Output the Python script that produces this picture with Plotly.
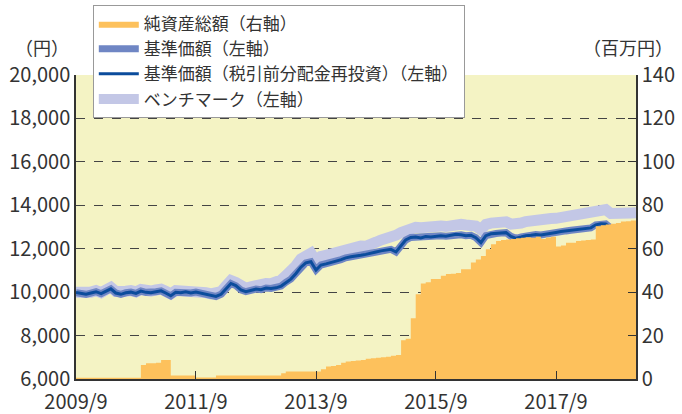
import pandas as pd
import plotly.graph_objects as go

# Monthly observations, 2009/9 .. 2019/1
dates = pd.date_range("2009-09-01", periods=113, freq="MS")

nav = [
    9980, 9950, 9900, 9960, 10020, 9930, 10040, 10150, 9960, 9900,
    9970, 10000, 9940, 10050, 9990, 9970, 10020, 10060, 9960, 9830,
    9990, 9970, 10020, 9960, 10000, 9950, 9880, 9820, 9800, 9900,
    10150, 10400, 10300, 10100, 10020, 10080, 10140, 10110, 10190, 10170,
    10200, 10280, 10450, 10600, 10850, 11150, 11350, 11400, 11020, 11250,
    11300, 11350, 11430, 11500, 11580, 11630, 11650, 11700, 11740, 11780,
    11850, 11900, 11930, 11970, 11850, 12150, 12400, 12520, 12540, 12500,
    12560, 12540, 12580, 12600, 12580, 12620, 12660, 12640, 12600, 12620,
    12510, 12280, 12600, 12690, 12700, 12720, 12740, 12570, 12480, 12540,
    12600, 12620, 12650, 12630, 12680, 12720, 12750, 12790, 12820, 12850,
    12880, 12910, 12950, 12960, 13100, 13150, 13140, 12950, 12930, 12990,
    13040, 13020, 13030,
]

nav_reinvested = list(nav)

benchmark = [
    9990, 9980, 9940, 10000, 10070, 9980, 10100, 10220, 10030, 9970,
    10040, 10070, 10010, 10120, 10060, 10050, 10100, 10140, 10040, 9920,
    10070, 10060, 10110, 10050, 10090, 10040, 9980, 9920, 9910, 10020,
    10280, 10540, 10450, 10260, 10180, 10250, 10320, 10300, 10400, 10390,
    10450, 10560, 10760, 10930, 11210, 11530, 11740, 11790, 11400, 11640,
    11700, 11760, 11850, 11920, 12000, 12050, 12070, 12120, 12110, 12150,
    12300, 12400, 12450, 12560, 12620, 12750, 12850, 12960, 12990, 12970,
    13010, 13000, 13030, 13050, 13020, 13070, 13110, 13120, 13090, 13100,
    13040, 12880, 13120, 13180, 13200, 13220, 13240, 13130, 13100, 13180,
    13250, 13300, 13340, 13330, 13360, 13390, 13400, 13440, 13470, 13500,
    13540, 13580, 13640, 13700, 13780, 13820, 13800, 13620, 13600, 13640,
    13680, 13650, 13660,
]

net_assets = [
    0.6, 0.6, 0.6, 0.6, 0.6, 0.6, 0.6, 0.6, 0.6, 0.6,
    0.6, 0.6, 0.6, 6.4, 7.3, 7.3, 7.5, 8.7, 8.7, 1.6,
    1.6, 1.6, 1.6, 1.6, 0.7, 0.7, 0.7, 0.7, 1.6, 1.6,
    1.6, 1.6, 1.6, 1.6, 1.6, 1.6, 1.6, 1.6, 1.6, 1.6,
    1.6, 2.6, 3.4, 3.4, 3.4, 3.4, 3.4, 3.4, 3.4, 4.5,
    5.7, 6.0, 6.5, 7.5, 8.1, 8.3, 8.5, 8.8, 9.3, 9.6,
    9.8, 10.0, 10.3, 10.7, 11.0, 17.8, 18.5, 28.0, 39.0, 44.0,
    44.5, 46.0, 46.0, 47.5, 48.3, 48.5, 48.8, 50.5, 50.5, 53.6,
    55.0, 56.6, 59.7, 62.0, 63.5, 64.0, 64.3, 64.5, 64.8, 65.0,
    65.3, 65.0, 65.5, 64.5, 65.2, 65.5, 61.0, 61.5, 62.7, 62.8,
    63.5, 63.8, 64.0, 64.3, 70.4, 70.8, 71.2, 71.5, 71.8, 72.5,
    72.7, 73.0, 73.4,
]

x_tick_vals = ["2009-09-01", "2011-09-01", "2013-09-01", "2015-09-01", "2017-09-01"]
x_tick_text = ["2009/9", "2011/9", "2013/9", "2015/9", "2017/9"]
y_left_ticks = [6000, 8000, 10000, 12000, 14000, 16000, 18000, 20000]
y_right_ticks = [0, 20, 40, 60, 80, 100, 120, 140]

FONT = "Noto Sans CJK JP"

fig = go.Figure()

fig.add_trace(go.Scatter(
    x=dates, y=net_assets, name="純資産総額（右軸）", yaxis="y2",
    mode="lines", line=dict(width=0, shape="hv", color="#FDC15C"),
    fill="tozeroy", fillcolor="#FDC15C", legendrank=1, legendgroup="a",
))
fig.add_trace(go.Scatter(
    x=dates, y=benchmark, name="ベンチマーク（左軸）",
    mode="lines", line=dict(width=11, color="#C3C7E6"), legendrank=4,
    legendgroup="d",
))
fig.add_trace(go.Scatter(
    x=dates, y=nav, name="基準価額（左軸）",
    mode="lines", line=dict(width=7, color="#6F86C4"), legendrank=2,
    legendgroup="b",
))
fig.add_trace(go.Scatter(
    x=dates, y=nav_reinvested, name="基準価額（税引前分配金再投資）（左軸）",
    mode="lines", line=dict(width=3, color="#0B4C9C"), legendrank=3,
    legendgroup="c",
))

fig.update_layout(
    width=682, height=414,
    margin=dict(l=76, r=46, t=75, b=35, autoexpand=False),
    paper_bgcolor="white", plot_bgcolor="#F4F3C4",
    font=dict(family=FONT, color="#333333", size=20),
    showlegend=True,
    legend=dict(
        x=0.03, y=1.230, xanchor="left", yanchor="top",
        bgcolor="white", bordercolor="#999999", borderwidth=1,
        font=dict(size=17, family=FONT, color="#333333"),
        tracegroupgap=0, itemwidth=40, groupclick="toggleitem",
    ),
    xaxis=dict(
        type="date", range=["2009-09-01", "2019-01-01"],
        tickvals=x_tick_vals, ticktext=x_tick_text,
        ticks="inside", ticklen=8, tickcolor="#333333",
        showgrid=False, showline=True, linecolor="#333333", linewidth=1.5,
        tickfont=dict(size=20), zeroline=False, ticklabelstandoff=4,
    ),
    yaxis=dict(
        range=[6000, 20000], tickvals=y_left_ticks, tickformat=",d",
        showgrid=True, gridcolor="#444444", griddash="dash", gridwidth=1,
        showline=True, linecolor="#333333", linewidth=1.5,
        ticks="", zeroline=False, tickfont=dict(size=20),
    ),
    yaxis2=dict(
        range=[0, 140], tickvals=y_right_ticks, overlaying="y", side="right",
        showgrid=False, showline=True, linecolor="#333333", linewidth=1.5,
        ticks="inside", ticklen=8, tickcolor="#333333",
        zeroline=False, tickfont=dict(size=20),
    ),
    annotations=[
        dict(text="（円）", xref="paper", yref="paper", x=-0.061, y=1.092,
             xanchor="center", yanchor="middle", showarrow=False,
             font=dict(size=18, family=FONT)),
        dict(text="（百万円）", xref="paper", yref="paper", x=0.986, y=1.092,
             xanchor="center", yanchor="middle", showarrow=False,
             font=dict(size=18, family=FONT)),
    ],
)

fig.write_html(
    "out.html",
    config={"displayModeBar": False},
    post_script="document.body.style.margin='0';document.body.style.padding='0';",
)
